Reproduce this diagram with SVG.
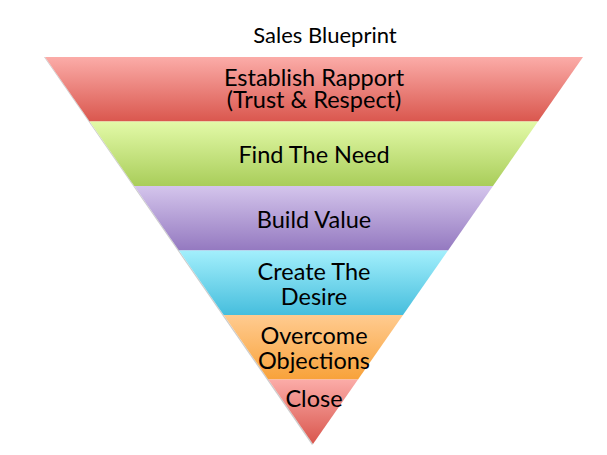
<svg xmlns="http://www.w3.org/2000/svg" width="607" height="455" viewBox="0 0 607 455">
<defs>
<linearGradient id="gRed" x1="0" y1="0" x2="0" y2="1"><stop offset="0" stop-color="#FBACA8"/><stop offset="1" stop-color="#DA574E"/></linearGradient>
<linearGradient id="gGreen" x1="0" y1="0" x2="0" y2="1"><stop offset="0" stop-color="#E3FAA8"/><stop offset="1" stop-color="#A9CD5A"/></linearGradient>
<linearGradient id="gPurple" x1="0" y1="0" x2="0" y2="1"><stop offset="0" stop-color="#D4C5EC"/><stop offset="1" stop-color="#9479C0"/></linearGradient>
<linearGradient id="gCyan" x1="0" y1="0" x2="0" y2="1"><stop offset="0" stop-color="#A3EFFC"/><stop offset="1" stop-color="#46BEDD"/></linearGradient>
<linearGradient id="gOrange" x1="0" y1="0" x2="0" y2="1"><stop offset="0" stop-color="#FFCB90"/><stop offset="1" stop-color="#F8A23A"/></linearGradient>
<linearGradient id="gClose" x1="0" y1="0" x2="0" y2="1"><stop offset="0" stop-color="#FBACA8"/><stop offset="1" stop-color="#D9564D"/></linearGradient>
</defs>
<style>
.lbl{font-family:Lato,"Open Sans","Liberation Sans",sans-serif;font-size:23.5px;fill:#000;text-anchor:middle}
.ttl{font-family:Lato,"Open Sans","Liberation Sans",sans-serif;font-size:22px;fill:#000;text-anchor:middle}
.band{stroke:none}
</style>
<rect width="607" height="455" fill="#fff"/>
<text class="ttl" x="325" y="43">Sales Blueprint</text>
<g id="shadow"><polygon points="44,57 312,445 313,444 45,57" fill="#ccc"/></g>
<g id="band1"><polygon class="band" points="45,57 583,57 538,121.5 89.7,121.5" fill="url(#gRed)"/>
<text class="lbl" x="314" y="86">Establish Rapport</text><text class="lbl" x="314" y="108">(Trust &amp; Respect)</text></g>
<g id="band2"><polygon class="band" points="89.7,121.5 538,121.5 493,186 134.3,186" fill="url(#gGreen)"/>
<text class="lbl" x="314" y="163">Find The Need</text></g>
<g id="band3"><polygon class="band" points="134.3,186 493,186 448,250.5 179,250.5" fill="url(#gPurple)"/>
<text class="lbl" x="314" y="228">Build Value</text></g>
<g id="band4"><polygon class="band" points="179,250.5 448,250.5 403,315 223.7,315" fill="url(#gCyan)"/>
<text class="lbl" x="314" y="280">Create The</text><text class="lbl" x="314" y="305">Desire</text></g>
<g id="band5"><polygon class="band" points="223.7,315 403,315 358,379.5 268.3,379.5" fill="url(#gOrange)"/>
<text class="lbl" x="314" y="344">Overcome</text><text class="lbl" x="314" y="369">Objections</text></g>
<g id="band6"><polygon class="band" points="268.3,379.5 358,379.5 313,444" fill="url(#gClose)"/>
<text class="lbl" x="314" y="407">Close</text></g>
</svg>
